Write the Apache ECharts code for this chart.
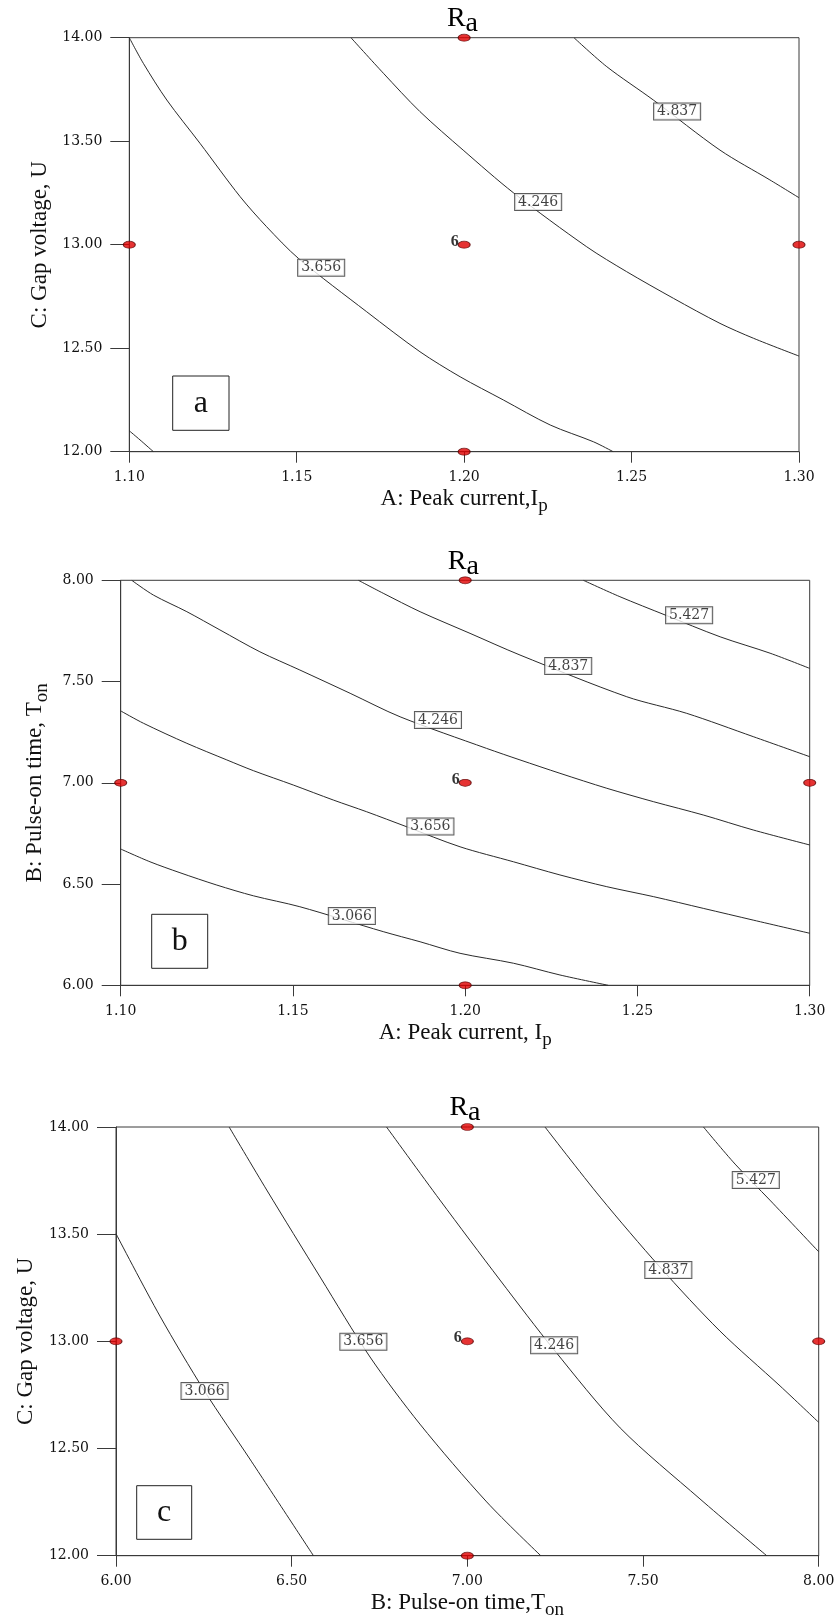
<!DOCTYPE html>
<html><head><meta charset="utf-8">
<script src="https://cdn.jsdelivr.net/npm/echarts@6/dist/echarts.min.js"></script>
<style>html,body{margin:0;padding:0;background:#fff}#c{width:838px;height:1622px}</style>
</head><body><div id="c"></div>
<script>
// ---------- tick values ----------
const ticksPeak = [1.10, 1.15, 1.20, 1.25, 1.30];
const ticksPulse = [6.00, 6.50, 7.00, 7.50, 8.00];
const ticksGap = [12.00, 12.50, 13.00, 13.50, 14.00];

// ---------- panel a : A (peak current) vs C (gap voltage) ----------
const a3066 = [[1.100,12.101],[1.1032,12.057],[1.1072,12.0]];
const a3656 = [[1.100,14.0],[1.1042,13.876],[1.1112,13.699],[1.1211,13.490],[1.1331,13.232],[1.1410,13.087],[1.1505,12.934],[1.1709,12.676],[1.1868,12.483],[1.1988,12.362],[1.2117,12.250],[1.2257,12.129],[1.2386,12.048],[1.2445,12.0]];
const a4246 = [[1.1662,14.0],[1.1759,13.828],[1.1868,13.643],[1.1997,13.457],[1.2147,13.251],[1.2366,12.990],[1.2485,12.870],[1.2625,12.741],[1.2764,12.620],[1.2864,12.548],[1.3000,12.462]];
const a4837 = [[1.2328,14.0],[1.2426,13.860],[1.2565,13.699],[1.2764,13.457],[1.2913,13.313],[1.3000,13.227]];
const aLabels = [[1.1573,12.889,'3.656'],[1.2221,13.206,'4.246'],[1.2636,13.643,'4.837']];
const aDesign = [[1.10,13],[1.20,14],[1.20,13],[1.30,13],[1.20,12]];
const aCenter = [[1.20,13,'6']];

// ---------- panel b : A (peak current) vs B (pulse-on time) ----------
const b3066 = [[1.100,6.673],[1.1085,6.610],[1.1172,6.556],[1.1279,6.495],[1.1385,6.442],[1.1520,6.388],[1.1762,6.265],[1.1869,6.215],[1.1985,6.158],[1.2140,6.109],[1.2275,6.051],[1.2415,6.0]];
const b3656 = [[1.100,7.355],[1.1066,7.294],[1.1192,7.195],[1.1308,7.113],[1.1385,7.060],[1.1501,6.989],[1.1617,6.915],[1.1714,6.857],[1.1830,6.783],[1.1985,6.684],[1.2140,6.610],[1.2275,6.545],[1.2411,6.487],[1.2546,6.438],[1.2691,6.380],[1.2836,6.322],[1.3000,6.257]];
const b4246 = [[1.1032,8.0],[1.1095,7.927],[1.1192,7.845],[1.1288,7.755],[1.1404,7.647],[1.1520,7.557],[1.1666,7.442],[1.1811,7.326],[1.2062,7.170],[1.2159,7.113],[1.2275,7.047],[1.2411,6.973],[1.2546,6.907],[1.2691,6.841],[1.2836,6.767],[1.3000,6.693]];
const b4837 = [[1.1690,8.0],[1.1762,7.936],[1.1869,7.845],[1.2014,7.738],[1.2159,7.631],[1.2469,7.425],[1.2643,7.343],[1.2836,7.228],[1.3000,7.129]];
const b5427 = [[1.2343,8.0],[1.2449,7.919],[1.2580,7.829],[1.2740,7.721],[1.2885,7.640],[1.3000,7.565]];
const bLabels = [[1.1671,6.342,'3.066'],[1.1899,6.784,'3.656'],[1.1921,7.310,'4.246'],[1.2299,7.577,'4.837'],[1.2650,7.827,'5.427']];
const bDesign = [[1.10,7],[1.20,8],[1.20,7],[1.30,7],[1.20,6]];
const bCenter = [[1.20,7,'6']];

// ---------- panel c : B (pulse-on time) vs C (gap voltage) ----------
const c3066 = [[6.000,13.502],[6.125,13.118],[6.252,12.768],[6.381,12.451],[6.562,12.0]];
const c3656 = [[6.322,14.0],[6.429,13.706],[6.581,13.300],[6.723,12.927],[6.865,12.614],[7.055,12.251],[7.209,12.0]];
const c4246 = [[6.770,14.0],[6.922,13.659],[7.093,13.286],[7.247,12.960],[7.435,12.596],[7.662,12.265],[7.852,12.0]];
const c4837 = [[7.221,14.0],[7.378,13.673],[7.548,13.347],[7.719,13.048],[7.890,12.792],[8.000,12.622]];
const c5427 = [[7.672,14.0],[7.762,13.827],[7.861,13.659],[8.000,13.418]];
const cLabels = [[6.252,12.768,'3.066'],[6.704,12.998,'3.656'],[7.247,12.982,'4.246'],[7.572,13.333,'4.837'],[7.821,13.753,'5.427']];
const cDesign = [[6,13],[7,14],[7,13],[8,13],[7,12]];
const cCenter = [[7,13,'6']];

// ---------- texts ----------
const xNames = ['{m|A: Peak current,I}{s|p}', '{m|A: Peak current, I}{s|p}', '{m|B: Pulse-on time,T}{s|on}'];
const yNames = ['{m|C: Gap voltage, U}', '{m|B: Pulse-on time, T}{s|on}', '{m|C: Gap voltage, U}'];
const panelLetters = ['a', 'b', 'c'];

// ---------- layout ----------
const grids = [
  {left:129.3, top:37.7, width:669.7, height:414},
  {left:120.7, top:580.3, width:689, height:405},
  {left:116, top:1127, width:702.7, height:428.7}
];
const SERIF = 'Liberation Serif';
const NUMF = 'DejaVu Serif';
const nameRich = {
  m:{fontFamily:SERIF, fontSize:23, color:'#111', lineHeight:27, verticalAlign:'top'},
  s:{fontFamily:SERIF, fontSize:19, color:'#111', lineHeight:23, padding:[9,0,0,0], verticalAlign:'top'}
};

function axis(gi, ticks, name, isX, nameGap) {
  return {
    type:'value', gridIndex:gi, min:ticks[0], max:ticks[ticks.length-1],
    interval:+(ticks[1]-ticks[0]).toFixed(4),
    name:name, nameLocation:'middle', nameGap:nameGap, nameMoveOverlap:false,
    nameTextStyle:{rich:nameRich, fontFamily:SERIF, fontSize:23, color:'#111'},
    axisLine:{show:true, onZero:false, lineStyle:{color:'#3a3a3a', width:1}},
    axisTick:{show:true, inside:false, length:isX?11:19, lineStyle:{color:'#3a3a3a', width:1}},
    axisLabel:{show:true, margin:isX?19:27, formatter:v=>v.toFixed(2), fontFamily:NUMF, fontSize:14, color:'#111'},
    splitLine:{show:false}
  };
}

const xAxes = [axis(0,ticksPeak,xNames[0],true,36), axis(1,ticksPeak,xNames[1],true,36), axis(2,ticksPulse,xNames[2],true,36)];
const yAxes = [axis(0,ticksGap,yNames[0],false,74), axis(1,ticksPulse,yNames[1],false,70), axis(2,ticksGap,yNames[2],false,75)];

function contour(gi, data){
  return {type:'line', xAxisIndex:gi, yAxisIndex:gi, data:data, symbol:'none', showSymbol:false,
    smooth:0.3, lineStyle:{color:'#2a2a2a', width:1}, silent:true, z:2, clip:true};
}
function labels(gi, data){
  return {type:'scatter', xAxisIndex:gi, yAxisIndex:gi, data:data, symbolSize:1,
    itemStyle:{color:'rgba(0,0,0,0)'}, z:5, silent:true,
    label:{show:true, position:'inside', formatter:p=>p.value[2], fontFamily:NUMF, fontSize:14, color:'#111',
      backgroundColor:'#fff', borderColor:'#333', borderWidth:1, padding:[2,3,1,3], lineHeight:13}};
}
function design(gi, data){
  return {type:'scatter', xAxisIndex:gi, yAxisIndex:gi, data:data, symbol:'circle', symbolSize:[12,7],
    itemStyle:{color:'#e00000', borderColor:'#5a0000', borderWidth:0.9}, z:6, clip:false, silent:true};
}
function center(gi, data){
  return {type:'scatter', xAxisIndex:gi, yAxisIndex:gi, data:data, symbolSize:1,
    itemStyle:{color:'rgba(0,0,0,0)'}, z:7, clip:false, silent:true,
    label:{show:true, position:'left', distance:5, offset:[0,-3], formatter:p=>p.value[2],
      fontFamily:SERIF, fontWeight:'bold', fontSize:16, color:'#000'}};
}

const series = [
  contour(0,a3066), contour(0,a3656), contour(0,a4246), contour(0,a4837), labels(0,aLabels), design(0,aDesign), center(0,aCenter),
  contour(1,b3066), contour(1,b3656), contour(1,b4246), contour(1,b4837), contour(1,b5427), labels(1,bLabels), design(1,bDesign), center(1,bCenter),
  contour(2,c3066), contour(2,c3656), contour(2,c4246), contour(2,c4837), contour(2,c5427), labels(2,cLabels), design(2,cDesign), center(2,cCenter)
];

const titleRich = {
  R:{fontFamily:SERIF, fontSize:28, color:'#111', lineHeight:30, verticalAlign:'top'},
  s:{fontFamily:SERIF, fontSize:28, color:'#111', lineHeight:30, padding:[5,0,0,0], verticalAlign:'top'}
};
const titlePos = [[462.5,5],[463.3,548],[465,1094]];
const boxRects = [[172.7,376,56.3,54.3],[151.7,914.3,56,54],[136.7,1485.7,55,53.6]];
const graphic = [];
titlePos.forEach(p=>{
  graphic.push({type:'text', x:p[0], y:p[1], z:10, style:{text:'{R|R}{s|a}', rich:titleRich, align:'center', verticalAlign:'top', textAlign:'center', textVerticalAlign:'top'}});
});
boxRects.forEach((r,i)=>{
  graphic.push({type:'rect', z:10, shape:{x:r[0], y:r[1], width:r[2], height:r[3]}, style:{fill:'#fff', stroke:'#222', lineWidth:1}});
  graphic.push({type:'text', z:11, x:r[0]+r[2]/2, y:r[1]+r[3]/2, style:{text:panelLetters[i], font:'32px "Liberation Serif"', fill:'#111', align:'center', verticalAlign:'middle', textAlign:'center', textVerticalAlign:'middle'}});
});

const chart = echarts.init(document.getElementById('c'), null, {renderer:'canvas'});
chart.setOption({
  animation:false,
  backgroundColor:'#fff',
  grid: grids.map(g=>Object.assign({show:true, borderColor:'#3a3a3a', borderWidth:1, backgroundColor:'rgba(0,0,0,0)', containLabel:false, outerBoundsMode:'none'}, g)),
  xAxis: xAxes,
  yAxis: yAxes,
  series: series,
  graphic: graphic
});
</script></body></html>
